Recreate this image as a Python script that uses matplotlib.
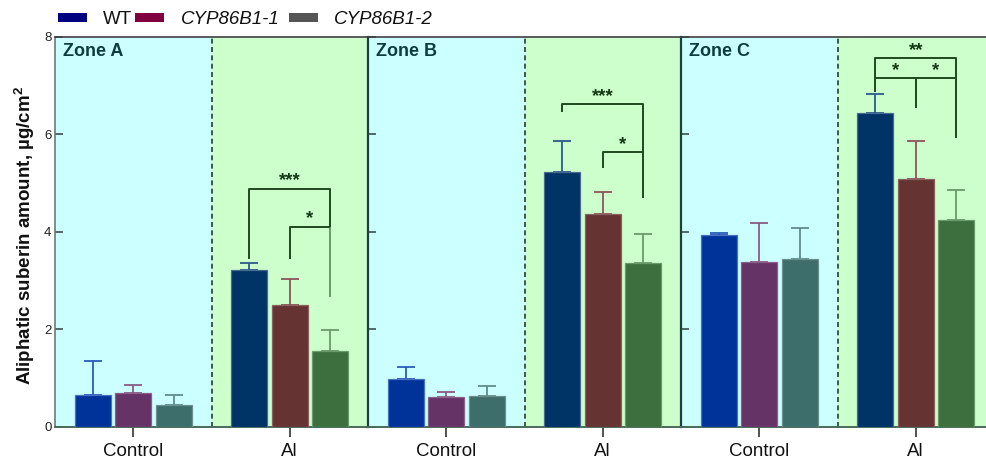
import matplotlib
matplotlib.use("Agg")
import matplotlib.pyplot as plt
from matplotlib.patches import Rectangle
import numpy as np

plt.rcParams['font.family'] = ['Liberation Sans', 'DejaVu Sans']
plt.rcParams['mathtext.fontset'] = 'custom'
plt.rcParams['mathtext.rm'] = 'Liberation Sans'
plt.rcParams['mathtext.bf'] = 'Liberation Sans:bold'

# ---------------- data ----------------
zones = ["Zone A", "Zone B", "Zone C"]
treatments = ["Control", "Al"]
series = ["WT", "CYP86B1-1", "CYP86B1-2"]

# values ordered: Zone A Control, Zone A Al, Zone B Control, Zone B Al, Zone C Control, Zone C Al
wt_mean = [0.65, 3.22, 0.98, 5.23, 3.93, 6.44]
wt_err = [0.69, 0.14, 0.24, 0.63, 0.05, 0.38]
c1_mean = [0.69, 2.50, 0.60, 4.36, 3.38, 5.09]
c1_err = [0.17, 0.53, 0.12, 0.45, 0.80, 0.77]
c2_mean = [0.45, 1.55, 0.64, 3.35, 3.45, 4.25]
c2_err = [0.20, 0.43, 0.20, 0.60, 0.63, 0.61]

yticks = [0, 2, 4, 6, 8]

# significance annotations (Al group of each zone)
sig_A = ["***", "*"]
sig_B = ["***", "*"]
sig_C = ["**", "*", "*"]

# ---------------- style ----------------
bar_colors = {
    "Control": ["#003399", "#663366", "#3d6e6b"],
    "Al": ["#003366", "#663333", "#3d6e3d"],
}
err_colors = {
    "Control": ["#2a5cbb", "#8a5a88", "#5e8c8a"],
    "Al": ["#2a5a8a", "#8a5558", "#6a9a6a"],
}
edge_colors = {
    "Control": ["#4a70c0", "#8a6088", "#6a9090"],
    "Al": ["#4a6a90", "#8a6060", "#6a9a6a"],
}
bg_colors = ["#ccffff", "#ccffcc"]
bracket_col = "#1f4a1f"
light_bracket = "#6a9a6a"
zone_text_col = "#0d3d3d"

W, H = 986, 461
fig = plt.figure(figsize=(W / 100, H / 100), dpi=100)

left_px, top_px, bottom_px, zone_w = 55, 36.7, 426.7, 313
bw = 0.23
off = 0.26
means = [wt_mean, c1_mean, c2_mean]
errs = [wt_err, c1_err, c2_err]

axes = []
for zi, zname in enumerate(zones):
    ax = fig.add_axes([(left_px + zi * zone_w) / W, 1 - bottom_px / H,
                       zone_w / W, (bottom_px - top_px) / H])
    axes.append(ax)
    ax.set_xlim(-0.5, 1.5)
    ax.set_ylim(0, 8)
    ax.axvspan(-0.5, 0.5, color=bg_colors[0], lw=0, zorder=0)
    ax.axvspan(0.5, 1.5, color=bg_colors[1], lw=0, zorder=0)
    ax.axvline(0.5, color="#1f3f30", lw=1.2, ls=(0, (3, 2)), zorder=1)

    for ti, tname in enumerate(treatments):
        idx = zi * 2 + ti
        for si in range(3):
            x = ti + (si - 1) * off
            ax.bar(x, means[si][idx], bw, color=bar_colors[tname][si],
                   edgecolor=edge_colors[tname][si], linewidth=0.9, zorder=3)
            ax.errorbar(x, means[si][idx], yerr=[[0], [errs[si][idx]]], fmt='none',
                        ecolor=err_colors[tname][si], elinewidth=1.3, capsize=6.8,
                        capthick=1.3, zorder=2)

    ax.set_xticks([0, 1])
    ax.set_xticklabels(treatments, fontsize=13.5, color="#111111")
    ax.tick_params(axis='x', direction='out', length=7.5, width=1.2, color="#333333", pad=4)
    ax.set_yticks(yticks)
    ax.tick_params(axis='y', direction='in', length=5.5, width=1.2, color="#3a5050")
    if zi == 0:
        ax.set_yticklabels([str(v) for v in yticks], fontsize=9.5, color="#222222")
        ax.tick_params(axis='y', pad=2.5)
        ax.spines['left'].set_color("#707878")
        ax.spines['left'].set_linewidth(1.2)
    else:
        ax.set_yticklabels([])
        ax.spines['left'].set_color("#1f3f3f")
        ax.spines['left'].set_linewidth(1.6)
    ax.spines['right'].set_visible(False)
    ax.spines['top'].set_color("#404040")
    ax.spines['top'].set_linewidth(1.2)
    ax.spines['bottom'].set_color("#4a6a5a")
    ax.spines['bottom'].set_linewidth(1.4)

    ax.text(8 / zone_w, 0.962, zname, transform=ax.transAxes, fontsize=13,
            fontweight='bold', color=zone_text_col, ha='left', va='center', zorder=5)


def line(ax, xs, ys, color=bracket_col):
    ax.plot(xs, ys, color=color, lw=1.4, zorder=4, solid_capstyle='butt')


def star(ax, x, y, s):
    ax.text(x, y - 0.21, s, ha='center', va='baseline', fontsize=13.5,
            fontweight='bold', color="#123812", zorder=5)


# Zone A brackets
ax = axes[0]
line(ax, [1 - off, 1 - off, 1 + off, 1 + off], [3.45, 4.88, 4.88, 4.10])
line(ax, [1 + off, 1 + off], [4.10, 2.67], light_bracket)
line(ax, [1, 1, 1 + off], [3.45, 4.10, 4.10])
star(ax, 1.0, 5.16, sig_A[0])
star(ax, 1 + off / 2, 4.38, sig_A[1])

# Zone B brackets
ax = axes[1]
line(ax, [1 - off, 1 - off, 1 + off, 1 + off], [6.45, 6.61, 6.61, 4.70])
line(ax, [1, 1, 1 + off], [5.31, 5.63, 5.63])
star(ax, 1.0, 6.89, sig_B[0])
star(ax, 1 + off / 2, 5.90, sig_B[1])

# Zone C brackets
ax = axes[2]
line(ax, [1 - off, 1 - off, 1 + off, 1 + off], [6.87, 7.56, 7.56, 5.92])
line(ax, [1 - off, 1 + off], [7.15, 7.15])
line(ax, [1, 1], [7.15, 6.53])
star(ax, 1.0, 7.84, sig_C[0])
star(ax, 1 - off / 2, 7.43, sig_C[1])
star(ax, 1 + off / 2, 7.43, sig_C[2])

# Y label
fig.text(25 / W, 1 - 235.5 / H, r"Aliphatic suberin amount, µg/cm$^{\mathbf{2}}$",
         rotation=90, ha='center', va='center', fontsize=13.5, fontweight='bold',
         color="#111111")

# Legend (manual)
leg_patch_cols = ["#000080", "#800040", "#555555"]
leg_patch_x = [58, 135, 289]
leg_text_x = [103, 181, 334]
leg_styles = ['normal', 'italic', 'italic']
for c, px, tx, s, st in zip(leg_patch_cols, leg_patch_x, leg_text_x, series, leg_styles):
    fig.add_artist(Rectangle((px / W, 1 - 22 / H), 29 / W, 9 / H,
                             transform=fig.transFigure, color=c, lw=0))
    fig.text(tx / W, 1 - 24 / H, s, ha='left', va='baseline', fontsize=13.5,
             style=st, color="#111111")

fig.savefig("out.png", dpi=100)
